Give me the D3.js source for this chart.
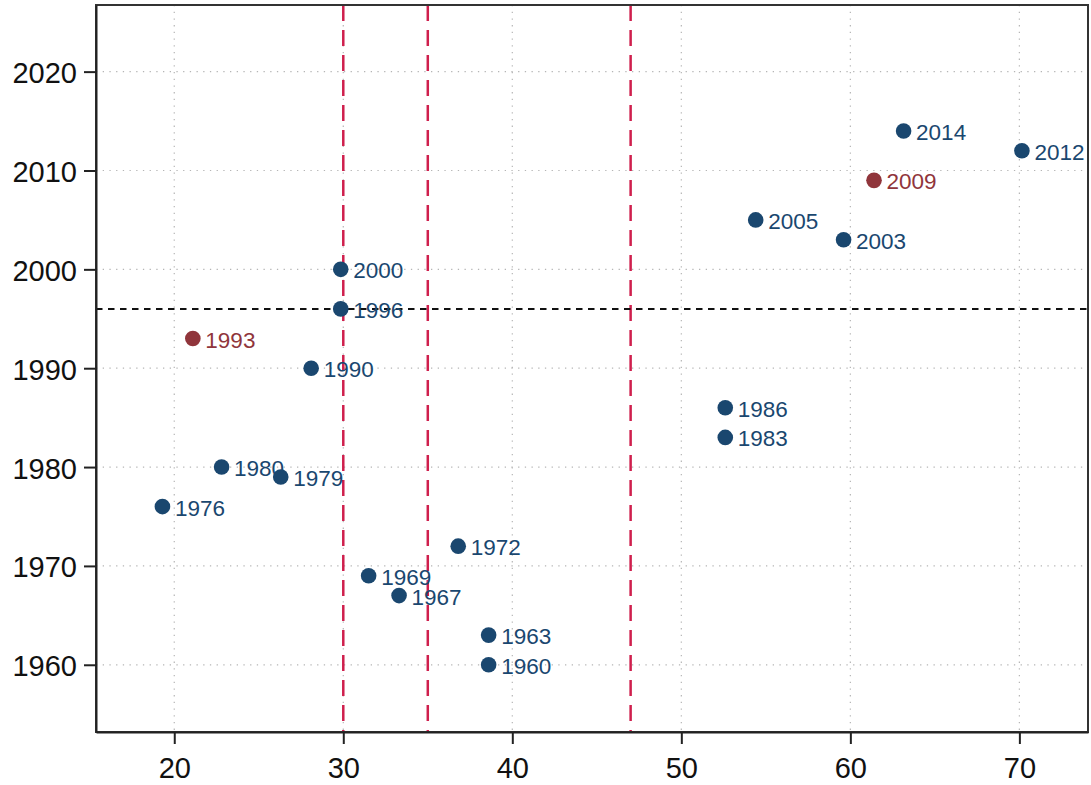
<!DOCTYPE html>
<html>
<head>
<meta charset="utf-8">
<script src="https://cdn.jsdelivr.net/npm/d3@7"></script>
<style>
  html, body { margin: 0; padding: 0; background: #fff; }
  svg { display: block; font-family: "Liberation Sans", Arial, sans-serif; }
</style>
</head>
<body>
<div id="chart"></div>
<script>
// --- datos ---
const years   = [1960, 1963, 1967, 1969, 1972, 1976, 1979, 1980, 1983, 1986,
                 1990, 1993, 1996, 2000, 2003, 2005, 2009, 2012, 2014];
const xValues = [38.6, 38.6, 33.3, 31.5, 36.8, 19.3, 26.3, 22.8, 52.6, 52.6,
                 28.1, 21.1, 29.85, 29.85, 59.6, 54.4, 61.4, 70.15, 63.15];
const highlightYears = [1993, 2009];
const xTicks = [20, 30, 40, 50, 60, 70];
const yTicks = [1960, 1970, 1980, 1990, 2000, 2010, 2020];
const vLines = [30, 35, 47];
const hLines = [1996];

const width = 1091, height = 785;
const margin = { top: 5, right: 3, bottom: 53, left: 96 };
const plotW = width - margin.left - margin.right;
const plotH = height - margin.top - margin.bottom;

const svg = d3.select("#chart").append("svg")
  .attr("width", width)
  .attr("height", height);

const g = svg.append("g")
  .attr("transform", `translate(${margin.left},${margin.top})`);

const x = d3.scaleLinear().domain([15.37, 74.06]).range([0, plotW]);
const y = d3.scaleLinear().domain([1953.2, 2026.74]).range([plotH, 0]);

// cuadrícula punteada
g.append("g").selectAll("line").data(xTicks).join("line")
  .attr("x1", d => x(d)).attr("x2", d => x(d))
  .attr("y1", 0).attr("y2", plotH)
  .attr("stroke", "#b5b5b5").attr("stroke-width", 1.2)
  .attr("stroke-dasharray", "1.3,5.4");
g.append("g").selectAll("line").data(yTicks).join("line")
  .attr("x1", 0).attr("x2", plotW)
  .attr("y1", d => y(d)).attr("y2", d => y(d))
  .attr("stroke", "#b5b5b5").attr("stroke-width", 1.2)
  .attr("stroke-dasharray", "1.3,5.4");

// líneas de referencia
g.append("g").selectAll("line").data(vLines).join("line")
  .attr("x1", d => x(d)).attr("x2", d => x(d))
  .attr("y1", 0).attr("y2", plotH)
  .attr("stroke", "#cf1f4d").attr("stroke-width", 2.5)
  .attr("stroke-dasharray", "16,9");
g.append("g").selectAll("line").data(hLines).join("line")
  .attr("x1", 0).attr("x2", plotW)
  .attr("y1", d => y(d)).attr("y2", d => y(d))
  .attr("stroke", "#111").attr("stroke-width", 2)
  .attr("stroke-dasharray", "6.5,5.5");

// puntos y etiquetas
const points = years.map((yr, i) => ({ year: yr, val: xValues[i] }));
const colorOf = d => highlightYears.includes(d.year) ? "#90353b" : "#1a476f";

g.append("g").selectAll("circle").data(points).join("circle")
  .attr("cx", d => x(d.val))
  .attr("cy", d => y(d.year))
  .attr("r", 7.8)
  .attr("fill", colorOf);

g.append("g").selectAll("text").data(points).join("text")
  .attr("x", d => x(d.val) + 12.5)
  .attr("y", d => y(d.year) + 9)
  .attr("font-size", 22.5)
  .attr("fill", colorOf)
  .text(d => d.year);

// marco
g.append("rect")
  .attr("x", 0).attr("y", 0)
  .attr("width", plotW).attr("height", plotH)
  .attr("fill", "none").attr("stroke", "#333").attr("stroke-width", 2);

// ejes
const xAxis = g.append("g")
  .attr("transform", `translate(0,${plotH})`)
  .call(d3.axisBottom(x).tickValues(xTicks).tickSize(12).tickSizeOuter(0));
xAxis.selectAll("text").attr("y", 46).attr("dy", 0);

const yAxis = g.append("g")
  .call(d3.axisLeft(y).tickValues(yTicks).tickFormat(d3.format("d")).tickSize(12).tickSizeOuter(0));
yAxis.selectAll("text").attr("x", -19).attr("dy", "0.38em");

[xAxis, yAxis].forEach(a => {
  a.select(".domain").attr("stroke", "#222").attr("stroke-width", 2);
  a.selectAll(".tick line").attr("stroke", "#222").attr("stroke-width", 2);
  a.selectAll("text")
    .attr("font-size", 29)
    .attr("font-family", "'Liberation Sans', Arial, sans-serif")
    .attr("fill", "#111");
});
</script>
</body>
</html>
